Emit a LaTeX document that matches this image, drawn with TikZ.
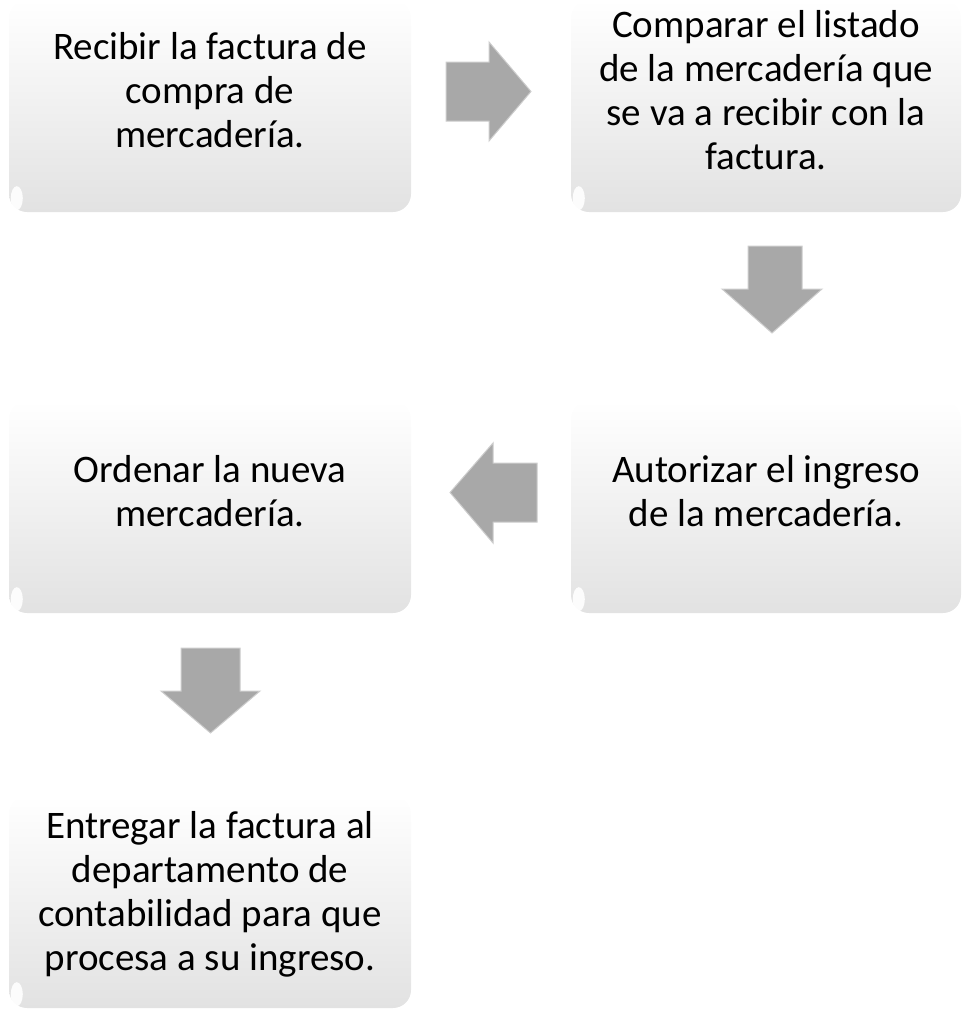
\documentclass[tikz,border=0pt]{standalone}
\usepackage{fontspec}
\setmainfont{Carlito}
\definecolor{arrowgray}{RGB}{168,168,168}
\definecolor{arrowlight}{RGB}{205,205,205}
\definecolor{boxgray}{RGB}{226,226,226}
\newcommand{\flowtext}[1]{\parbox[t]{400pt}{\centering #1}}
\tikzset{
  stepbox/.style={rectangle, rounded corners=18pt, minimum width=402pt, minimum height=212pt,
    inner sep=0pt, top color=white, middle color=white, bottom color=boxgray},
  steptext/.style={anchor=base, inner sep=0pt, font=\fontsize{39}{44}\selectfont},
  blockarrow/.style={fill=arrowgray, draw=arrowlight, line width=1pt, line join=miter},
  gloss/.style={fill=white, draw=none, opacity=0.9}
}
\begin{document}
\begin{tikzpicture}[x=1pt, y=-1pt]
\useasboundingbox (0,0) rectangle (961,1009);
% boxes
\node[stepbox] (b1) at (210,106) {};
\node[stepbox, minimum width=390pt] (b2) at (766,106) {};
\node[stepbox, minimum width=390pt] (b3) at (766,507) {};
\node[stepbox] (b4) at (210,507) {};
\node[stepbox] (b5) at (210,902) {};
% glossy highlights at lower-left corners
\fill[gloss] ([shift={(8pt,14pt)}]b1.south west) ellipse (6pt and 12pt);
\fill[gloss] ([shift={(8pt,14pt)}]b2.south west) ellipse (6pt and 12pt);
\fill[gloss] ([shift={(8pt,14pt)}]b3.south west) ellipse (6pt and 12pt);
\fill[gloss] ([shift={(8pt,14pt)}]b4.south west) ellipse (6pt and 12pt);
\fill[gloss] ([shift={(8pt,14pt)}]b5.south west) ellipse (6pt and 12pt);
% texts
\node[steptext] (t1) at (210,59) {\flowtext{Recibir la factura de\\compra de\\mercadería.}};
\node[steptext] (t2) at (766,37) {\flowtext{Comparar el listado\\de la mercadería que\\se va a recibir con la\\factura.}};
\node[steptext] (t3) at (766,482) {\flowtext{Autorizar el ingreso\\de la mercadería.}};
\node[steptext] (t4) at (210,482) {\flowtext{Ordenar la nueva\\mercadería.}};
\node[steptext] (t5) at (210,838) {\flowtext{Entregar la factura al\\departamento de\\contabilidad para que\\procesa a su ingreso.}};
% block arrows
\draw[blockarrow] (446,62) -- (489,62) -- (489,42) -- (531,91.5) -- (489,141) -- (489,121) -- (446,121) -- cycle;
\draw[blockarrow] (748,246) -- (802,246) -- (802,289) -- (822,289) -- (772,333) -- (722,289) -- (748,289) -- cycle;
\draw[blockarrow] (537,463) -- (493,463) -- (493,443) -- (450,492.5) -- (493,543) -- (493,522) -- (537,522) -- cycle;
\draw[blockarrow] (181,648) -- (240,648) -- (240,691) -- (260,691) -- (210.5,733) -- (161,691) -- (181,691) -- cycle;
\end{tikzpicture}
\end{document}
